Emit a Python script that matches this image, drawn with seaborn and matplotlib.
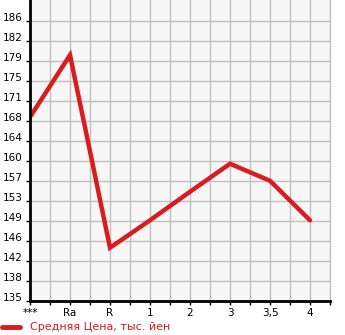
import matplotlib
matplotlib.use("Agg")
import matplotlib.pyplot as plt
import seaborn as sns
import pandas as pd
import numpy as np
from matplotlib.ticker import FixedLocator, MultipleLocator

categories = ["***", "Ra", "R", "1", "2", "3", "3,5", "4"]
prices = [168.5, 179.8, 144.7, 149.7, 154.9, 160.0, 156.9, 149.7]
ytick_labels = ["135", "138", "142", "146", "149", "153", "157", "160",
                "164", "168", "171", "175", "179", "182", "186"]
legend_label = "Средняя Цена, тыс. йен"

sns.set_style("white")
plt.rcParams['font.family'] = ['DejaVu Sans']

df = pd.DataFrame({"x": np.arange(len(categories)), "price": prices})

fig = plt.figure(figsize=(3.45, 3.35), dpi=100)
ax = fig.add_axes([30/345, (335-301)/335, 300/345, 301/335])
ax.set_facecolor("#f7f7f7")

ymin = 135.0
step = 51.0 / 14
ax.set_ylim(ymin, ymin + step * 15.05)
ax.set_xlim(0, 7.5)

yt = [ymin + step * i for i in range(len(ytick_labels))]
ax.yaxis.set_major_locator(FixedLocator(yt))
ax.set_yticklabels(ytick_labels, fontsize=7.5)
ax.set_xticks(range(len(categories)))
ax.set_xticklabels(categories, fontsize=7.5)
ax.xaxis.set_minor_locator(MultipleLocator(0.5))

ax.grid(True, which="both", axis="x", color="#c0c0c0", linewidth=1)
ax.grid(True, which="major", axis="y", color="#c0c0c0", linewidth=1)
ax.set_axisbelow(True)

sns.lineplot(data=df, x="x", y="price", ax=ax, color="#d81c1f",
             linewidth=3.2, solid_capstyle="round", solid_joinstyle="miter",
             legend=False)
ax.set_xlabel("")
ax.set_ylabel("")

ax.spines["top"].set_visible(False)
ax.spines["right"].set_color("#c0c0c0")
ax.spines["right"].set_linewidth(1)
ax.spines["left"].set_color("black")
ax.spines["left"].set_linewidth(2)
ax.spines["bottom"].set_color("black")
ax.spines["bottom"].set_linewidth(2)

ax.tick_params(axis="y", which="major", length=3, width=1, color="black", pad=2,
               labelcolor="black")
ax.tick_params(axis="x", which="both", length=3, width=1, color="black", pad=2,
               direction="out", labelcolor="black")
ax.tick_params(axis="both", which="both", left=True, bottom=True)
for lbl in ax.get_yticklabels():
    lbl.set_verticalalignment("baseline")

fig.lines.append(plt.Line2D([2/345, 20/345], [1 - 327/335] * 2,
                            transform=fig.transFigure, color="#d81c1f",
                            linewidth=3.5, solid_capstyle="round"))
fig.text(30/345, 1 - 327/335, legend_label, color="#d81c1f", fontsize=8,
         va="center", ha="left")

fig.savefig("out.png", dpi=100)
